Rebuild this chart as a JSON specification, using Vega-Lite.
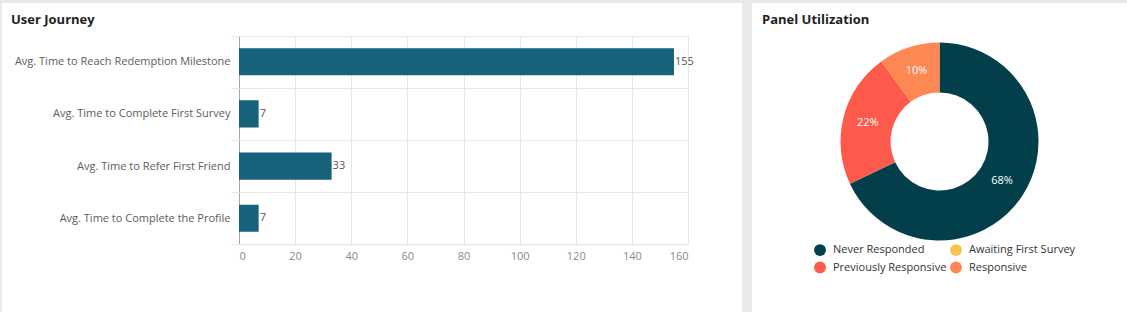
{
  "$schema": "https://vega.github.io/schema/vega-lite/v6.json",
  "background": "#e9e8ea",
  "padding": {"left": 2, "top": -3, "right": 0, "bottom": 0},
  "spacing": 10,
  "bounds": "flush",
  "resolve": {"legend": {"color": "independent"}},
  "config": {
    "view": {"fill": "white", "stroke": null},
    "font": "Open Sans",
    "title": {"anchor": "start", "frame": "group", "fontSize": 13, "fontWeight": "bold", "color": "#1f1f1f"}
  },
  "datasets": {
    "journey": [
      {"metric": "Avg. Time to Reach Redemption Milestone", "days": 155},
      {"metric": "Avg. Time to Complete First Survey", "days": 7},
      {"metric": "Avg. Time to Refer First Friend", "days": 33},
      {"metric": "Avg. Time to Complete the Profile", "days": 7}
    ],
    "panel": [
      {"status": "Never Responded", "share": 0.68, "rank": 1},
      {"status": "Awaiting First Survey", "share": 0, "rank": 2},
      {"status": "Previously Responsive", "share": 0.22, "rank": 3},
      {"status": "Responsive", "share": 0.10, "rank": 4}
    ]
  },
  "hconcat": [
    {
      "title": {"text": "User Journey", "dx": 9, "offset": -30},
      "width": 740,
      "height": 309,
      "data": {"name": "journey"},
      "encoding": {
        "y": {
          "field": "metric", "type": "nominal", "sort": null,
          "scale": {"range": [32.7, 241.3], "paddingInner": 0, "paddingOuter": 0},
          "axis": {"title": null, "offset": -237, "domain": false, "tickBand": "extent", "tickSize": 8, "tickColor": "#e6e6e6", "grid": true, "gridColor": "#e6e6e6", "labelPadding": 1, "labelFontSize": 11, "labelColor": "#5c5c5c", "labelLimit": 400}
        },
        "x": {
          "field": "days", "type": "quantitative",
          "scale": {"domain": [0, 160], "range": [237, 686], "nice": false},
          "axis": {"title": null, "orient": "top", "offset": -241.3, "values": [0, 20, 40, 60, 80, 100, 120, 140, 160], "ticks": false, "tickSize": 0, "labelPadding": -6, "labelBaseline": "top", "grid": true, "gridColor": {"condition": {"test": "datum.value === 0", "value": "#a6a6a6"}, "value": "#e6e6e6"}, "domainColor": "#e6e6e6", "labelColor": "#8a8a8a", "labelFontSize": 11}
        }
      },
      "layer": [
        {"mark": {"type": "bar", "color": "#16627a", "height": {"band": 0.52}}},
        {"mark": {"type": "text", "align": "left", "dx": 1, "fontSize": 11, "color": "#555555"}, "encoding": {"text": {"field": "days", "type": "quantitative"}}}
      ]
    },
    {
      "title": {"text": "Panel Utilization", "dx": 10, "offset": -24},
      "width": 375,
      "height": 309,
      "view": {"fill": "white", "stroke": null},
      "data": {"name": "panel"},
      "encoding": {
        "theta": {"field": "share", "type": "quantitative", "stack": true},
        "order": {"field": "rank", "type": "quantitative"},
        "color": {
          "field": "status", "type": "nominal",
          "scale": {"domain": ["Never Responded", "Awaiting First Survey", "Previously Responsive", "Responsive"], "range": ["#033f4b", "#f9c34f", "#fe5a4c", "#fe8754"]},
          "legend": {"title": null, "orient": "none", "direction": "horizontal", "legendX": 62, "legendY": 241, "columns": 2, "symbolType": "circle", "symbolSize": 140, "symbolStrokeWidth": 0, "labelFontSize": 11, "labelColor": "#333333", "columnPadding": 3, "rowPadding": 5.5, "labelOffset": 7}
        }
      },
      "layer": [
        {"mark": {"type": "arc", "outerRadius": 99, "innerRadius": 49, "yOffset": -16}},
        {"transform": [{"filter": "datum.share > 0"}], "mark": {"type": "text", "radius": 74, "yOffset": -16, "fontSize": 11}, "encoding": {"color": {"value": "white"}, "text": {"field": "share", "type": "quantitative", "format": ".0%"}}}
      ]
    }
  ]
}
